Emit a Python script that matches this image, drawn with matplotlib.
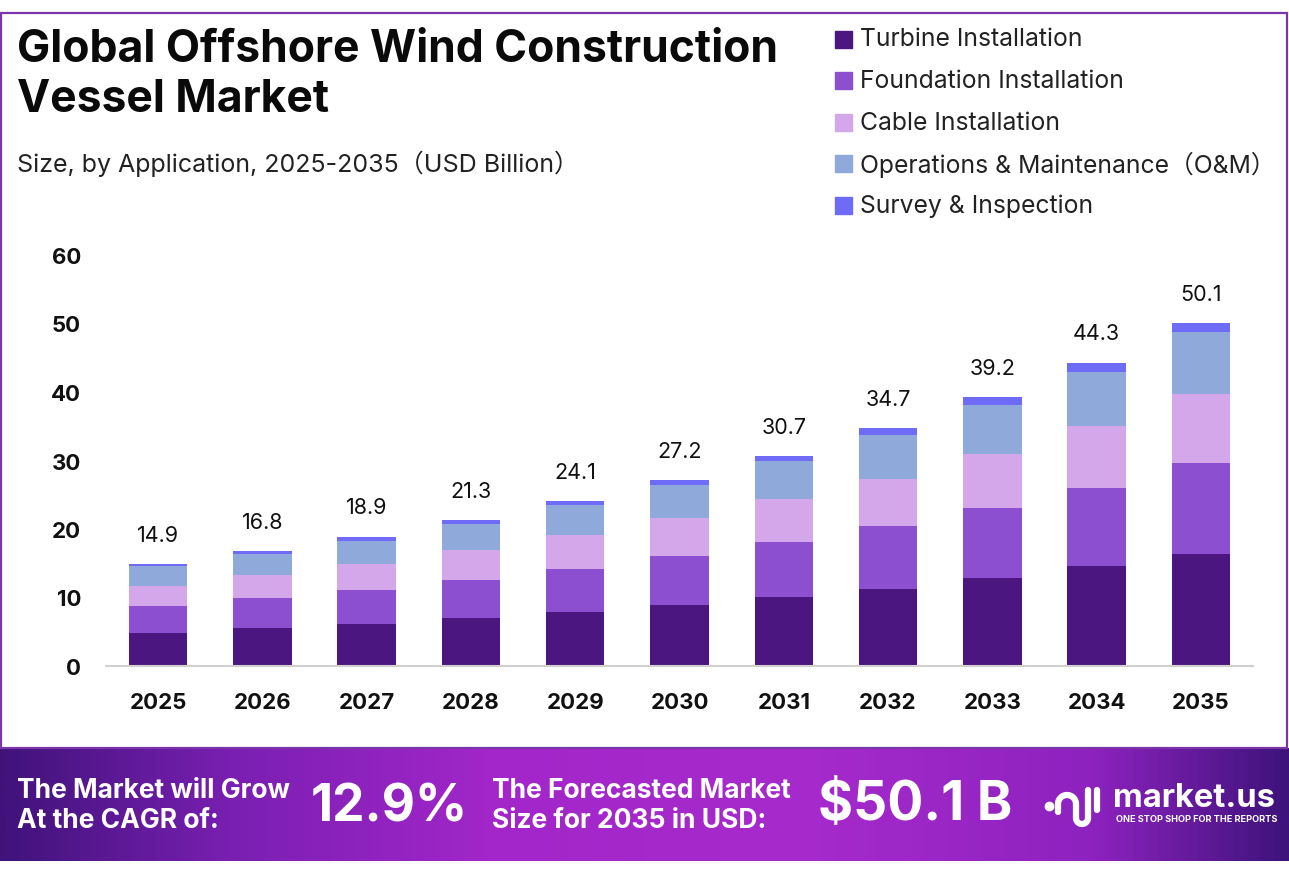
import numpy as np
import matplotlib.pyplot as plt
from matplotlib.patches import Rectangle
from matplotlib.colors import LinearSegmentedColormap

plt.rcParams['font.family'] = ['Inter', 'Noto Sans CJK SC', 'DejaVu Sans']

W, H = 1289, 879

years = ["2025", "2026", "2027", "2028", "2029", "2030",
         "2031", "2032", "2033", "2034", "2035"]
totals = [14.9, 16.8, 18.9, 21.3, 24.1, 27.2, 30.7, 34.7, 39.2, 44.3, 50.1]

turbine = [4.75, 5.5, 6.19, 6.94, 7.84, 8.87, 10.04, 11.3, 12.9, 14.54, 16.4]
foundation = [4.0, 4.46, 4.86, 5.61, 6.36, 7.25, 8.12, 9.13, 10.15, 11.5, 13.2]
cable = [2.97, 3.27, 3.83, 4.33, 4.88, 5.47, 6.2, 6.92, 7.94, 9.0, 10.05]
om = [2.87, 3.17, 3.43, 3.84, 4.44, 4.88, 5.61, 6.38, 7.1, 7.89, 9.07]
survey = [0.3, 0.4, 0.59, 0.59, 0.59, 0.74, 0.74, 0.98, 1.13, 1.37, 1.38]

series_names = ["Turbine Installation", "Foundation Installation",
                "Cable Installation", "Operations & Maintenance（O&M）",
                "Survey & Inspection"]
series = [turbine, foundation, cable, om, survey]
colors = ["#4c1681", "#8b4fcf", "#d4a7ea", "#8fa9db", "#6e6cf6"]

cagr = "12.9%"
forecast = "$50.1 B"


def fx(px):
    return px / W


def fy(py):
    return 1 - py / H


fig = plt.figure(figsize=(W / 100, H / 100), dpi=100)
fig.patch.set_facecolor("white")

# frame around the chart part
fig.add_artist(Rectangle((fx(1), fy(749)), fx(1286), (749 - 14) / H,
                         transform=fig.transFigure, fill=False,
                         edgecolor="#7a35a8", linewidth=1.6))

# main axes
ax = fig.add_axes([fx(106), fy(667), fx(1253 - 106), (667 - 256) / H])
x = np.arange(len(years))
bottom = np.zeros(len(years))
for vals, col, name in zip(series, colors, series_names):
    ax.bar(x, vals, bottom=bottom, width=0.56, color=col, label=name, zorder=2)
    bottom += np.array(vals)

for i, t in enumerate(totals):
    ax.annotate(f"{t}", (x[i], t), xytext=(0, 21), textcoords="offset points",
                ha="center", va="center", fontsize=15.5, color="#111111")

ax.set_xlim(-0.5, 10.5)
ax.set_ylim(0, 60)
ax.set_yticks(range(0, 61, 10))
ax.set_xticks(x)
ax.set_xticklabels(years)
for lab in ax.get_xticklabels() + ax.get_yticklabels():
    lab.set_fontweight("bold")
    lab.set_fontsize(16)
    lab.set_color("#111111")
ax.tick_params(axis="y", length=0, pad=18)
ax.tick_params(axis="x", length=0, pad=19)
for s in ["top", "right", "left"]:
    ax.spines[s].set_visible(False)
ax.spines["bottom"].set_color("#d0d0d0")
ax.spines["bottom"].set_linewidth(1.5)

# title and subtitle
fig.text(fx(17), fy(62), "Global Offshore Wind Construction", fontsize=32,
         fontweight="bold", va="baseline", color="#0a0a0a")
fig.text(fx(17), fy(112), "Vessel Market", fontsize=32,
         fontweight="bold", va="baseline", color="#0a0a0a")
fig.text(fx(17), fy(172), "Size, by Application, 2025-2035（USD Billion）",
         fontsize=18, va="baseline", color="#222222")

# legend
for i, (name, col) in enumerate(zip(series_names, colors)):
    yc = 40 + i * 41.6
    fig.add_artist(Rectangle((fx(835), fy(yc + 8.5)), fx(17), 17 / H,
                             transform=fig.transFigure, color=col))
    fig.text(fx(860), fy(yc), name, fontsize=17.8, va="center", color="#222222")

# banner
bax = fig.add_axes([0, fy(862), 1, (862 - 749) / H])
cmap = LinearSegmentedColormap.from_list("banner", [
    (0.0, "#40137a"), (0.18, "#7a1fb2"), (0.38, "#a226c9"),
    (0.62, "#a72acc"), (0.85, "#8d22bf"), (1.0, "#3e137b")])
grad = np.linspace(0, 1, 512).reshape(1, -1)
bax.imshow(grad, aspect="auto", cmap=cmap, extent=[0, 1, 0, 1])
bax.set_xlim(0, 1)
bax.set_ylim(0, 1)
bax.axis("off")

fig.text(fx(17), fy(791), "The Market will Grow", fontsize=19,
         fontweight="bold", color="white", va="center")
fig.text(fx(17), fy(821), "At the CAGR of:", fontsize=19,
         fontweight="bold", color="white", va="center")
fig.text(fx(311), fy(808), cagr, fontsize=37, fontweight="bold",
         color="white", va="center")
fig.text(fx(492), fy(791), "The Forecasted Market", fontsize=19,
         fontweight="bold", color="white", va="center")
fig.text(fx(492), fy(821), "Size for 2035 in USD:", fontsize=19,
         fontweight="bold", color="white", va="center")
fig.text(fx(818), fy(806), forecast, fontsize=38.5, fontweight="bold",
         color="white", va="center")

# logo
lax = fig.add_axes([fx(1043), fy(835), fx(60), 55 / H])
lax.set_xlim(0, 60)
lax.set_ylim(0, 55)
lax.axis("off")
lax.plot([6], [28], "o", color="white", markersize=6)
th = np.linspace(0, np.pi, 40)
lax.plot(24 + 9 * np.cos(th), 30 + 9 * np.sin(th), color="white", lw=4.5,
         solid_capstyle="round")
lax.plot([15, 15], [30, 22], color="white", lw=4.5, solid_capstyle="round")
th2 = np.linspace(np.pi, 2 * np.pi, 40)
lax.plot(39 + 6 * np.cos(th2), 30 + 6 * np.sin(th2) - 14, color="white", lw=4.5,
         solid_capstyle="round")
lax.plot([33, 33], [30, 16], color="white", lw=4.5, solid_capstyle="round")
lax.plot([45, 45], [44, 16], color="white", lw=4.5, solid_capstyle="round")
lax.plot([54, 54], [44, 24], color="white", lw=4.5, solid_capstyle="round")

fig.text(fx(1113), fy(799), "market.us", fontsize=23.5, fontweight="bold",
         color="white", va="center")
fig.text(fx(1116), fy(820), "ONE STOP SHOP FOR THE REPORTS", fontsize=6.6,
         fontweight="bold", color="white", va="center")

fig.savefig("out.png", dpi=100)
